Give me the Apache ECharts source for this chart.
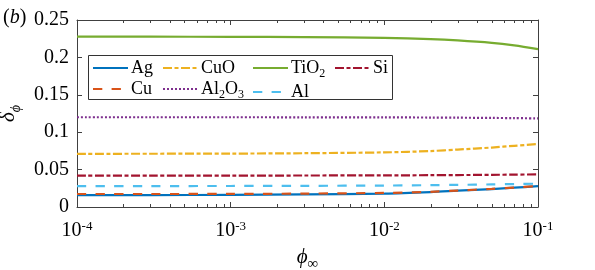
<!DOCTYPE html>
<html>
<head>
<meta charset="utf-8">
<script src="https://cdn.jsdelivr.net/npm/echarts@6/dist/echarts.min.js"></script>
<style>html,body{margin:0;padding:0;background:#fff;}#c{width:595px;height:270px;}</style>
</head>
<body>
<div id="c"></div>
<script>
// ---- data ----
const phi = [1e-4, 3e-4, 1e-3, 3e-3, 1e-2, 2e-2, 3e-2, 5e-2, 7e-2, 1e-1];
const Ag    = [0.0160, 0.0160, 0.0162, 0.0168, 0.0180, 0.0200, 0.0218, 0.0240, 0.0258, 0.0278];
const Cu    = [0.0174, 0.0174, 0.0175, 0.0179, 0.0188, 0.0203, 0.0220, 0.0242, 0.0260, 0.0280];
const CuO   = [0.0711, 0.0712, 0.0714, 0.0719, 0.0730, 0.0748, 0.0768, 0.0795, 0.0818, 0.0842];
const Al2O3 = [0.1200, 0.1200, 0.1200, 0.1199, 0.1198, 0.1196, 0.1194, 0.1191, 0.1188, 0.1185];
const TiO2  = [0.2277, 0.2277, 0.2275, 0.2271, 0.2260, 0.2245, 0.2228, 0.2195, 0.2160, 0.2110];
const Al    = [0.0280, 0.0280, 0.0281, 0.0283, 0.0287, 0.0292, 0.0296, 0.0302, 0.0307, 0.0312];
const Si    = [0.0419, 0.0419, 0.0420, 0.0421, 0.0423, 0.0425, 0.0427, 0.0430, 0.0433, 0.0436];
const xTickExps = [-4, -3, -2, -1];
const yTicks = [0, 0.05, 0.1, 0.15, 0.2, 0.25];

const FONT = 'Liberation Serif';
const AXC = '#404040';

function mk(name, arr, color, type, z) {
  return {
    name: name, type: 'line', symbol: 'none', smooth: 0.3, z: z,
    data: phi.map((x, i) => [x, arr[i]]),
    lineStyle: { color: color, width: 2.2, type: type, cap: 'butt' },
    itemStyle: { color: color }
  };
}
const series = [
  mk('Ag', Ag, '#0072BD', 'solid', 2),
  mk('CuO', CuO, '#EDB120', [9, 2.5, 4, 2.5], 2),
  mk('TiO2', TiO2, '#77AC30', 'solid', 2),
  mk('Si', Si, '#A2142F', [9, 2.5, 4, 2.5], 2),
  mk('Cu', Cu, '#D95319', [9.3, 9.3], 3),
  mk('Al2O3', Al2O3, '#7E2F8E', [2, 2], 3),
  mk('Al', Al, '#4DBEEE', [9.3, 9.3], 3)
];

const richLeg = {
  n: { fontFamily: FONT, fontSize: 18, color: '#000' },
  s: { fontFamily: FONT, fontSize: 12, color: '#000', verticalAlign: 'bottom', lineHeight: 10, padding: [0, 0, -3, 0] }
};
function legFmt(name) {
  if (name === 'Al2O3') return '{n|Al}{s|2}{n|O}{s|3}';
  if (name === 'TiO2') return '{n|TiO}{s|2}';
  return '{n|' + name + '}';
}
function leg(names, left) {
  return {
    data: names, orient: 'vertical', left: left, top: 59, padding: 0,
    itemWidth: 35, itemHeight: 14, itemGap: 3, selectedMode: false,
    itemStyle: { opacity: 0, borderWidth: 0 },
    formatter: legFmt,
    textStyle: { fontFamily: FONT, fontSize: 18, color: '#000', rich: richLeg, padding: [0, 0, 0, -2] }
  };
}

const chart = echarts.init(document.getElementById('c'), null, { renderer: 'canvas' });
const grid = { left: 77, right: 57, top: 20, bottom: 63, outerBoundsMode: 'none', containLabel: false };
const option = {
  animation: false,
  backgroundColor: '#fff',
  title: {
    text: '{n|(}{i|b}{n|)}', left: 3, top: 8, padding: 0,
    textStyle: { fontWeight: 'normal', rich: {
      n: { fontFamily: FONT, fontSize: 20, fontWeight: 'normal', color: '#000' },
      i: { fontFamily: FONT, fontSize: 20, fontStyle: 'italic', fontWeight: 'normal', color: '#000' }
    } }
  },
  grid: grid,
  legend: [
    leg(['Ag', 'Cu'], 92),
    leg(['CuO', 'Al2O3'], 162),
    leg(['TiO2', 'Al'], 252),
    leg(['Si'], 334)
  ],
  xAxis: [{
    type: 'log', logBase: 10, min: 1e-4, max: 1e-1,
    name: '{p|ϕ}{s|∞}', nameLocation: 'middle', nameGap: 40,
    nameTextStyle: { rich: {
      p: { fontFamily: FONT, fontSize: 21, fontStyle: 'italic', color: '#000' },
      s: { fontFamily: FONT, fontSize: 15, color: '#000', verticalAlign: 'bottom', padding: [0, 0, -4, 0] }
    } },
    axisLine: { show: true, onZero: false, lineStyle: { color: AXC, width: 1 } },
    axisTick: { show: true, inside: true, length: 5, lineStyle: { color: AXC } },
    splitLine: { show: false },
    axisLabel: {
      margin: 13,
      formatter: function (v) {
        const e = Math.round(Math.log10(v));
        if (xTickExps.indexOf(e) < 0) return '';
        return '{b|10}{s|' + e + '}';
      },
      rich: {
        b: { fontFamily: FONT, fontSize: 20, color: '#000', lineHeight: 22 },
        s: { fontFamily: FONT, fontSize: 13, color: '#000', verticalAlign: 'top', lineHeight: 14 }
      }
    }
  }, {
    type: 'log', logBase: 10, min: 1e-4, max: 1e-1, position: 'top',
    axisLine: { show: true, onZero: false, lineStyle: { color: AXC, width: 1 } },
    axisTick: { show: true, inside: true, length: 5, lineStyle: { color: AXC } },
    axisLabel: { show: false }, splitLine: { show: false }
  }],
  yAxis: [{
    type: 'value', min: 0, max: 0.25, interval: 0.05,
    name: '{d|δ}{s|ϕ}', nameLocation: 'middle', nameGap: 50, nameRotate: 90,
    nameTextStyle: { rich: {
      d: { fontFamily: FONT, fontSize: 21, fontStyle: 'italic', color: '#000' },
      s: { fontFamily: FONT, fontSize: 14, fontStyle: 'italic', color: '#000', verticalAlign: 'bottom', padding: [0, 0, -4, 0] }
    } },
    axisLine: { show: true, onZero: false, lineStyle: { color: AXC, width: 1 } },
    axisTick: { show: true, inside: true, length: 5, lineStyle: { color: AXC } },
    splitLine: { show: false },
    axisLabel: {
      margin: 8, fontFamily: FONT, fontSize: 20, color: '#000',
      formatter: function (v) {
        const t = yTicks.find(y => Math.abs(y - v) < 1e-9);
        return t === undefined ? '' : String(+t.toFixed(2));
      }
    }
  }, {
    type: 'value', min: 0, max: 0.25, interval: 0.05, position: 'right',
    axisLine: { show: true, onZero: false, lineStyle: { color: AXC, width: 1 } },
    axisTick: { show: true, inside: true, length: 5, lineStyle: { color: AXC } },
    axisLabel: { show: false }, splitLine: { show: false }
  }],
  series: series
};
chart.setOption(option);

// legend frame and log-axis minor ticks, placed through the chart's own coordinate conversion
function addExtras() {
  const els = [];
  const yb = chart.convertToPixel({ yAxisIndex: 0 }, 0);
  const yt = chart.convertToPixel({ yAxisIndex: 0 }, 0.25);
  for (let e = xTickExps[0]; e < xTickExps[xTickExps.length - 1]; e++) {
    for (let k = 2; k <= 9; k++) {
      const x = Math.round(chart.convertToPixel({ xAxisIndex: 0 }, k * Math.pow(10, e))) + 0.5;
      els.push({ type: 'line', shape: { x1: x, y1: yb, x2: x, y2: yb - 3 }, style: { stroke: AXC, lineWidth: 1 }, silent: true });
      els.push({ type: 'line', shape: { x1: x, y1: yt, x2: x, y2: yt + 3 }, style: { stroke: AXC, lineWidth: 1 }, silent: true });
    }
  }
  els.push({ type: 'rect', shape: { x: 88.5, y: 55.5, width: 304, height: 44 },
    style: { fill: '#fff', stroke: '#333', lineWidth: 1 }, z: -1, zlevel: 0, silent: true });
  chart.setOption({ graphic: els });
}
addExtras();
</script>
</body>
</html>
